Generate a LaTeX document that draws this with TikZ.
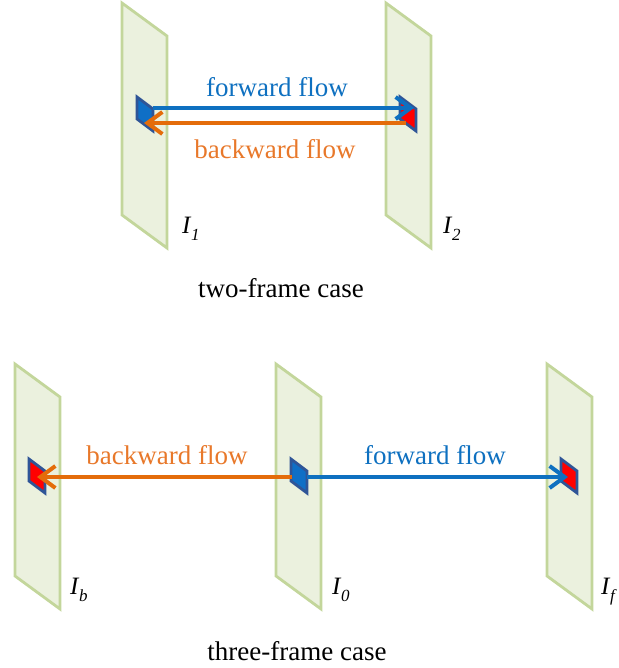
\documentclass[tikz,border=0pt]{standalone}
\usepackage{fontspec}
\setmainfont{Liberation Serif}
\usetikzlibrary{arrows.meta}
\definecolor{panelfill}{HTML}{EBF1DE}
\definecolor{paneldraw}{HTML}{C3D69B}
\definecolor{patchdraw}{HTML}{2F5597}
\definecolor{patchblue}{HTML}{0F6FC6}
\definecolor{patchred}{HTML}{FF0000}
\definecolor{flowblue}{HTML}{0E70C0}
\definecolor{floworange}{HTML}{E46C0A}
\definecolor{textorange}{HTML}{E8782A}
\tikzset{
  x=1pt, y=-1pt,
  panel/.style={fill=panelfill, draw=paneldraw, line width=2.8pt, line join=miter},
  patchb/.style={fill=patchblue, draw=patchdraw, line width=2.8pt, line join=miter},
  patchr/.style={fill=patchred, draw=patchdraw, line width=2.8pt, line join=miter},
  flowarrow/.style={line width=4pt, -{Straight Barb[length=15pt,width=22pt]}},
  fwd/.style={flowarrow, draw=flowblue},
  bwd/.style={flowarrow, draw=floworange},
  flowlabel/.style={font=\fontsize{27}{31}\selectfont, inner sep=0pt},
  caption/.style={font=\fontsize{27}{31}\selectfont, inner sep=0pt, text=black},
  framelabel/.style={font=\fontsize{25}{29}\selectfont\itshape, inner sep=0pt, anchor=base west}
}
\newcommand{\myframe}[2]{% left x, top y
  \draw[panel] (#1,#2) -- ++(45,33) -- ++(0,212) -- ++(-45,-33) -- cycle;}
\newcommand{\mypatch}[3]{% style, left x, top y
  \draw[#1] (#2,#3) -- ++(16,12) -- ++(0,22) -- ++(-16,-12) -- cycle;}
\newcommand{\flab}[2]{I\kern0.5pt\raisebox{-0.3em}{\fontsize{17}{19}\selectfont\itshape #2}}
\begin{document}
\begin{tikzpicture}
\useasboundingbox (0,0) rectangle (618,668);
% ---------- two-frame case ----------
\myframe{122}{3}
\myframe{386}{3}
\mypatch{patchb}{137}{97}
\mypatch{patchr}{400}{97}
\coordinate (p1r) at (153,108);
\coordinate (p2l) at (414,108);
\coordinate (q2) at (406,123);
\coordinate (q1) at (144,123);
\draw[fwd] (p1r) -- (p2l);
\draw[bwd] (q2) -- (q1);
\node[flowlabel, text=flowblue] (ff1) at (277,87) {forward flow};
\node[flowlabel, text=textorange] (bf1) at (275,149) {backward flow};
\node[framelabel] (l1) at (182,233) {\flab{I}{1}};
\node[framelabel] (l2) at (443,233) {\flab{I}{2}};
\node[caption] (c1) at (281,288) {two-frame case};
% ---------- three-frame case ----------
\myframe{15}{364}
\myframe{276}{364}
\myframe{547}{364}
\mypatch{patchr}{29}{459}
\mypatch{patchb}{291}{459}
\mypatch{patchr}{561}{459}
\coordinate (o0l) at (292,477);
\coordinate (obt) at (37,477);
\coordinate (o0r) at (307,477);
\coordinate (oft) at (568,477);
\draw[bwd] (o0l) -- (obt);
\draw[fwd] (o0r) -- (oft);
\node[flowlabel, text=textorange] (bf2) at (167,455) {backward flow};
\node[flowlabel, text=flowblue] (ff2) at (435,455) {forward flow};
\node[framelabel] (lb) at (70,594) {\flab{I}{b}};
\node[framelabel] (l0) at (332,594) {\flab{I}{0}};
\node[framelabel] (lf) at (601,594) {\flab{I}{f}};
\node[caption] (c2) at (297,651) {three-frame case};
\end{tikzpicture}
\end{document}
